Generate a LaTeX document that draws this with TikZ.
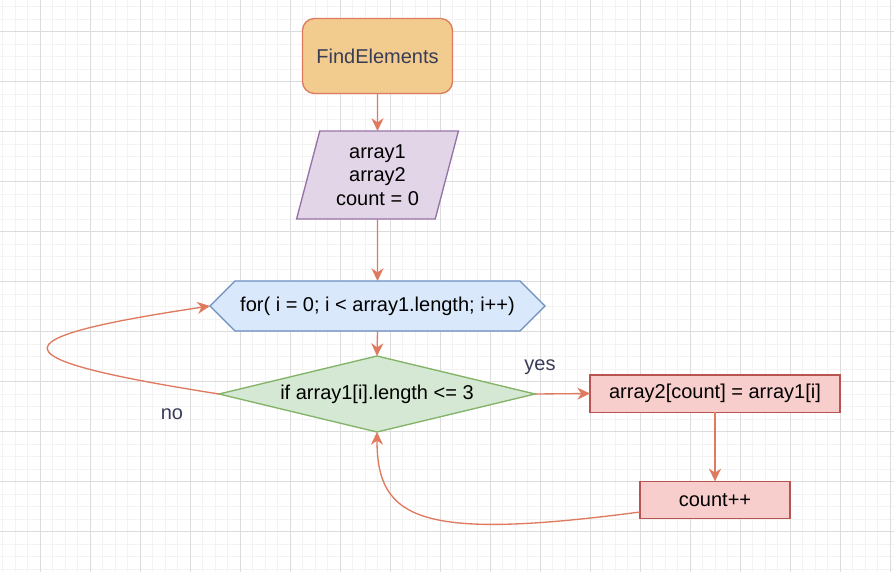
\documentclass[tikz,border=0pt]{standalone}
\usepackage{fontspec}
\setmainfont{Liberation Sans}
\usetikzlibrary{shapes.geometric,arrows.meta}
\definecolor{minorgrid}{HTML}{F3F3F3}
\definecolor{majorgrid}{HTML}{DCDCDC}
\definecolor{edgec}{HTML}{E07A5F}
\definecolor{labc}{HTML}{393C56}
\definecolor{startfill}{HTML}{F2CC8F}
\definecolor{iofill}{HTML}{E1D5E7}
\definecolor{iodraw}{HTML}{9673A6}
\definecolor{loopfill}{HTML}{DAE8FC}
\definecolor{loopdraw}{HTML}{6C8EBF}
\definecolor{condfill}{HTML}{D5E8D4}
\definecolor{conddraw}{HTML}{82B366}
\definecolor{procfill}{HTML}{F8CECC}
\definecolor{procdraw}{HTML}{B85450}
\pgfdeclarelayer{gridlayer}
\pgfdeclarelayer{shapelayer}
\pgfsetlayers{gridlayer,shapelayer,main}
\begin{document}
\begin{tikzpicture}[x=0.75pt,y=-0.75pt,
  every node/.style={font=\fontsize{15}{17.6}\selectfont, inner sep=0pt, outer sep=0pt, line width=1pt},
  startbox/.style={rectangle, rounded corners=9pt, draw=edgec, fill=startfill, text=labc, minimum width=112.5pt, minimum height=56.25pt},
  iobox/.style={trapezium, trapezium left angle=74.7, trapezium right angle=105.3, trapezium stretches=true, draw=iodraw, fill=iofill, minimum width=122.25pt, minimum height=66pt, align=center},
  loopbox/.style={rectangle, minimum width=251.25pt, minimum height=37.5pt},
  hexshape/.style={draw=loopdraw, fill=loopfill, line width=1pt, line join=miter},
  condbox/.style={diamond, aspect=4.16, draw=conddraw, fill=condfill, minimum width=237pt, minimum height=57pt},
  procbox/.style={rectangle, draw=procdraw, fill=procfill, minimum height=28pt},
  edge/.style={draw=edgec, line width=1pt, -{Stealth[length=9.5pt,width=9pt,inset=3pt]}},
  lab/.style={text=labc}
]
\useasboundingbox (0,0) rectangle (894,572);
\begin{pgfonlayer}{gridlayer}
\fill[white] (0,0) rectangle (894,572);
\foreach \i in {0,...,71} \draw[minorgrid, line width=0.75pt] (2.5+12.5*\i,0) -- (2.5+12.5*\i,572);
\foreach \j in {0,...,45} \draw[minorgrid, line width=0.75pt] (0,6.7+12.5*\j) -- (894,6.7+12.5*\j);
\foreach \i in {0,...,17} \draw[majorgrid, line width=0.75pt] (40+50*\i,0) -- (40+50*\i,572);
\foreach \j in {0,...,10} \draw[majorgrid, line width=0.75pt] (0,31.7+50*\j) -- (894,31.7+50*\j);
\end{pgfonlayer}

% nodes
\node[startbox] (start) at (377.5,56) {FindElements};
\node[iobox] (io) at (377.5,175) {array1\\array2\\count = 0};
\node[loopbox] (loop) at (377.5,306) {for( i = 0; i < array1.length; i++)};
\begin{pgfonlayer}{shapelayer}
\path[hexshape] (loop.west) -- ([xshift=18.75pt]loop.north west) -- ([xshift=-18.75pt]loop.north east)
  -- (loop.east) -- ([xshift=-18.75pt]loop.south east) -- ([xshift=18.75pt]loop.south west) -- cycle;
\end{pgfonlayer}
\node[condbox] (cond) at (377,394) {if array1[i].length <= 3};
\node[procbox, minimum width=187.5pt] (assign) at (715,393.5) {array2[count] = array1[i]};
\node[procbox, minimum width=112.5pt] (cnt) at (715,500) {count++};
\node[lab] (yes) at (540,367) {yes};
\node[lab] (no) at (172,414.5) {no};

% connectors
\draw[edge] (start.south) -- (io.north);
\draw[edge] (io.south) -- (loop.north);
\draw[edge] (loop.south) -- (cond.north);
\draw[edge] (cond.east) -- (assign.west);
\draw[edge] (assign.south) -- (cnt.north);
\draw[edge] (cond.west) .. controls (-3,359) and (-11,339) .. (loop.west);
\draw[edge] ([yshift=-9pt]cnt.west) .. controls (420,541) and (377,520) .. (cond.south);
\end{tikzpicture}
\end{document}
